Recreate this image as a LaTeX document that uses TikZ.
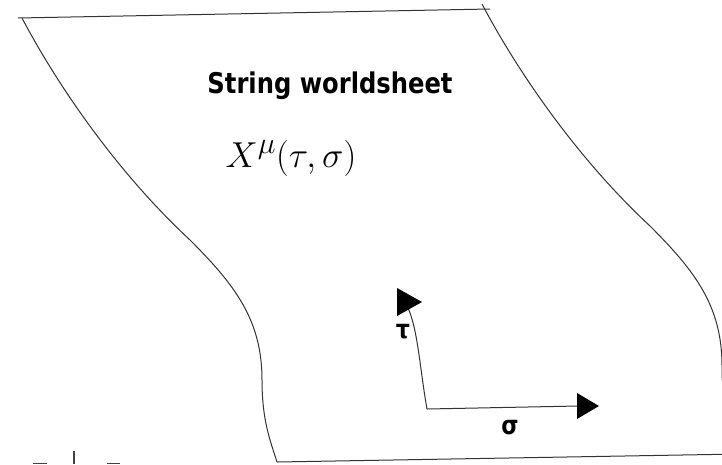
\documentclass[tikz,border=0pt]{standalone}
\usepackage{fontspec}
\newfontfamily\labelfont[FakeStretch=0.85]{DejaVu Sans}
\begin{document}
\begin{tikzpicture}[x=1pt,y=-1pt,
  edge/.style={draw=black!80,line width=1pt},
  head/.style={fill=black},
  title/.style={font=\labelfont\bfseries\fontsize{28.5}{32}\selectfont,inner sep=0pt,anchor=base},
  glabel/.style={font=\labelfont\bfseries\fontsize{26}{30}\selectfont,inner sep=0pt},
  frag/.style={draw=black!75,line width=1.4pt}]
\useasboundingbox (0,0) rectangle (722,464);
\begin{scope}
\clip (0,0) rectangle (722,464);
% left edge
\draw[edge] (22,18) .. controls (60,90) and (120,175) .. (190,240)
  .. controls (235,285) and (262,320) .. (262,380)
  .. controls (262,420) and (270,440) .. (277,462);
% right edge
\begin{scope}[shift={(460,-14)}]
\draw[edge] (22,18) .. controls (60,90) and (120,175) .. (190,240)
  .. controls (235,285) and (262,320) .. (262,380)
  .. controls (262,420) and (270,440) .. (277,462);
\end{scope}
% top and bottom
\draw[edge] (18,18) -- (490,9);
\draw[edge] (277,462) -- (740,454);
% fragments at bottom left
\draw[frag] (33,463.5) -- (47,463.5);
\draw[frag] (74,451) -- (74,464);
\draw[frag] (107,463.5) -- (120,463.5);
\end{scope}
% texts
\node[title] (t) at (330,93) {String worldsheet};
\node[inner sep=0pt] (x) at (291,158) {\scalebox{1.45}{\Huge$X^{\mu}(\tau,\sigma)$}};
% axes
\coordinate (o) at (427,409);
\coordinate (tauend) at (408,308);
\coordinate (sigend) at (578,406);
\draw[edge] (o) .. controls (420,370) and (418,330) .. (tauend);
\draw[edge] (o) -- (sigend);
\fill[head] (397,288) -- (422,302) -- (397,316) -- cycle;
\fill[head] (577,393) -- (599,406) -- (577,419) -- cycle;
\node[glabel] (tau) at (403,332) {τ};
\node[glabel] (sig) at (510,428) {σ};
\end{tikzpicture}
\end{document}
